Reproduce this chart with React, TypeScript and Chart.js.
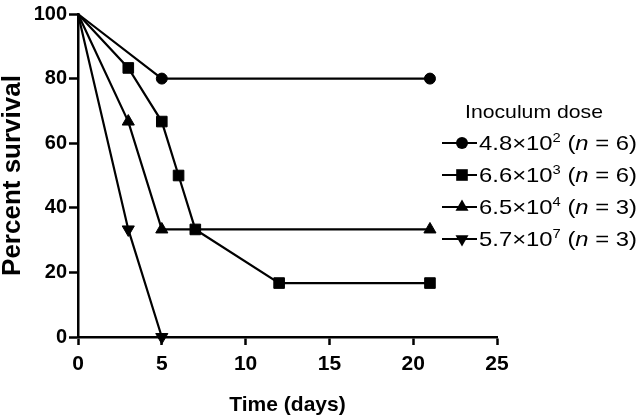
import React, { useEffect, useRef } from "react";
import { Chart, registerables } from "chart.js";

Chart.register(...registerables);

const days1 = [0, 5, 21];
const surv1 = [100, 80, 80];
const days2 = [0, 3, 5, 6, 7, 12, 21];
const surv2 = [100, 83.3, 66.7, 50, 33.3, 16.7, 16.7];
const days3 = [0, 3, 5, 21];
const surv3 = [100, 66.7, 33.3, 33.3];
const days4 = [0, 3, 5];
const surv4 = [100, 33.3, 0];

const legendTitle = "Inoculum dose";
const doseBase = ["4.8×10", "6.6×10", "6.5×10", "5.7×10"];
const doseExp = ["2", "3", "4", "7"];
const doseN = ["6", "6", "3", "3"];
const pointStyles = ["circle", "rect", "triangle", "triangle"];
const pointRotations = [0, 0, 0, 180];
const pointRadii = [5.5, 7.5, 7, 7];

const xTicks = [0, 5, 10, 15, 20, 25];
const yTicks = [0, 20, 40, 60, 80, 100];

const FONT = "'Liberation Sans', Arial, sans-serif";

function toXY(xs: number[], ys: number[]) {
  return xs.map((x, i) => ({ x, y: ys[i] }));
}

function drawMarker(
  ctx: CanvasRenderingContext2D,
  style: string,
  r: number,
  rot: number,
  x: number,
  y: number
) {
  ctx.save();
  ctx.fillStyle = "#000";
  ctx.beginPath();
  if (style === "circle") {
    ctx.arc(x, y, r + 0.5, 0, Math.PI * 2);
  } else if (style === "rect") {
    const s = Math.SQRT1_2 * r + 0.5;
    ctx.rect(x - s, y - s, 2 * s, 2 * s);
  } else {
    let rad = (rot * Math.PI) / 180;
    const rr = r + 0.5;
    ctx.moveTo(x + Math.sin(rad) * rr, y - Math.cos(rad) * rr);
    rad += (2 * Math.PI) / 3;
    ctx.lineTo(x + Math.sin(rad) * rr, y - Math.cos(rad) * rr);
    rad += (2 * Math.PI) / 3;
    ctx.lineTo(x + Math.sin(rad) * rr, y - Math.cos(rad) * rr);
    ctx.closePath();
  }
  ctx.fill();
  ctx.restore();
}

const legendPlugin = {
  id: "customLegend",
  afterDraw(chart: any) {
    const ctx = chart.ctx as CanvasRenderingContext2D;
    ctx.save();
    ctx.fillStyle = "#000";
    ctx.strokeStyle = "#000";
    ctx.font = `19px ${FONT}`;
    ctx.textBaseline = "middle";
    const tw = ctx.measureText(legendTitle).width;
    ctx.save();
    ctx.translate(465, 113);
    ctx.scale(138 / tw, 1);
    ctx.textAlign = "left";
    ctx.fillText(legendTitle, 0, 0);
    ctx.restore();

    const rowsY = [143, 175, 207, 239];
    for (let i = 0; i < 4; i++) {
      const y = rowsY[i];
      ctx.lineWidth = 2.2;
      ctx.beginPath();
      ctx.moveTo(442, y);
      ctx.lineTo(477, y);
      ctx.stroke();
      drawMarker(ctx, pointStyles[i], pointRadii[i], pointRotations[i], 462, y);

      const big = `21px ${FONT}`;
      const small = `13px ${FONT}`;
      const ital = `italic 21px ${FONT}`;
      const parts: { t: string; f: string; dy: number }[] = [
        { t: doseBase[i], f: big, dy: 0 },
        { t: doseExp[i], f: small, dy: -6 },
        { t: " (", f: big, dy: 0 },
        { t: "n", f: ital, dy: 0 },
        { t: " = " + doseN[i] + ")", f: big, dy: 0 },
      ];
      let total = 0;
      for (const p of parts) {
        ctx.font = p.f;
        total += ctx.measureText(p.t).width;
      }
      ctx.save();
      ctx.translate(479, y);
      ctx.scale(158 / total, 1);
      let cx = 0;
      ctx.textBaseline = "middle";
      for (const p of parts) {
        ctx.font = p.f;
        ctx.fillText(p.t, cx, p.dy + 1);
        cx += ctx.measureText(p.t).width;
      }
      ctx.restore();
    }
    ctx.restore();
  },
};

function makeDataset(xs: number[], ys: number[], i: number) {
  const data = toXY(xs, ys);
  return {
    label: doseBase[i] + doseExp[i],
    data,
    borderColor: "#000",
    backgroundColor: "#000",
    borderWidth: 2.2,
    pointStyle: pointStyles[i],
    rotation: pointRotations[i],
    pointRadius: data.map((_, k) => (k === 0 ? 0 : pointRadii[i])),
    pointBorderWidth: 1,
    pointBorderColor: "#000",
    pointBackgroundColor: "#000",
    tension: 0,
    clip: false as any,
  };
}

export default function App() {
  const ref = useRef<HTMLCanvasElement | null>(null);
  useEffect(() => {
    if (!ref.current) return;
    const chart = new Chart(ref.current, {
      type: "line",
      data: {
        datasets: [
          makeDataset(days1, surv1, 0),
          makeDataset(days2, surv2, 1),
          makeDataset(days3, surv3, 2),
          makeDataset(days4, surv4, 3),
        ],
      },
      options: {
        animation: false,
        responsive: true,
        maintainAspectRatio: false,
        layout: { padding: { left: 0, top: 12, right: 144, bottom: 0 } },
        plugins: {
          legend: { display: false },
          tooltip: { enabled: false },
        },
        scales: {
          x: {
            type: "linear",
            min: 0,
            max: 25,
            afterFit: (s: any) => {
              s.height = 81;
            },
            afterBuildTicks: (s: any) => {
              s.ticks = xTicks.map((v) => ({ value: v }));
            },
            border: { display: true, color: "#000", width: 2.5 },
            grid: {
              display: true,
              drawOnChartArea: false,
              drawTicks: true,
              tickLength: 8,
              tickWidth: 2.5,
              tickColor: "#000",
            },
            ticks: {
              color: "#000",
              padding: 7,
              maxRotation: 0,
              font: { family: FONT, size: 21, weight: "bold" },
            },
            title: {
              display: true,
              text: "Time (days)",
              color: "#000",
              padding: { top: 0, bottom: 0 },
              font: { family: FONT, size: 21, weight: "bold" },
            },
          },
          y: {
            type: "linear",
            min: 0,
            max: 100,
            afterFit: (s: any) => {
              s.width = 78;
            },
            afterBuildTicks: (s: any) => {
              s.ticks = yTicks.map((v) => ({ value: v }));
            },
            border: { display: true, color: "#000", width: 2.5 },
            grid: {
              display: true,
              drawOnChartArea: false,
              drawTicks: true,
              tickLength: 9,
              tickWidth: 2.5,
              tickColor: "#000",
            },
            ticks: {
              color: "#000",
              padding: 2,
              font: { family: FONT, size: 20, weight: "bold" },
            },
            title: {
              display: true,
              text: "Percent survival",
              color: "#000",
              padding: { top: 0, bottom: 0 },
              font: { family: FONT, size: 26, weight: "bold", lineHeight: 1 },
            },
          },
        },
      },
      plugins: [legendPlugin],
    });
    return () => chart.destroy();
  }, []);
  return (
    <div style={{ position: "absolute", left: 0, top: 0, width: 641, height: 418, background: "#fff" }}>
      <canvas ref={ref} />
    </div>
  );
}
